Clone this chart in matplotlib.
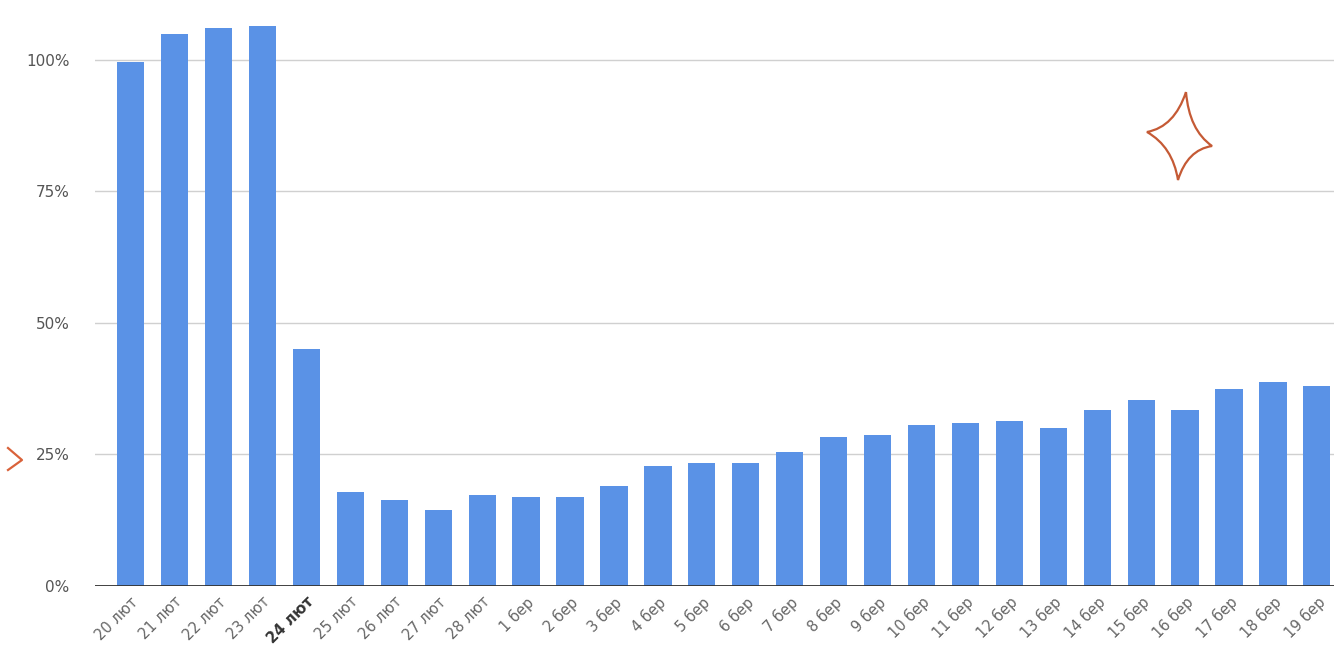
import matplotlib.pyplot as plt
from matplotlib.path import Path
import matplotlib.patches as patches

# categories and values (percent)
days = ["20 лют", "21 лют", "22 лют", "23 лют", "24 лют", "25 лют", "26 лют",
        "27 лют", "28 лют", "1 бер", "2 бер", "3 бер", "4 бер", "5 бер",
        "6 бер", "7 бер", "8 бер", "9 бер", "10 бер", "11 бер", "12 бер",
        "13 бер", "14 бер", "15 бер", "16 бер", "17 бер", "18 бер", "19 бер"]
values = [99.6, 105.0, 106.0, 106.5, 45.0, 17.9, 16.3, 14.4, 17.3, 16.9,
          16.9, 19.0, 22.8, 23.4, 23.4, 25.5, 28.3, 28.7, 30.6, 31.0,
          31.4, 30.0, 33.5, 35.4, 33.5, 37.5, 38.8, 38.0]
yticks = [0, 25, 50, 75, 100]
highlight = "24 лют"

fig = plt.figure(figsize=(13.34, 6.61), dpi=100)
ax = fig.add_axes([0.071, 0.1135, 0.929, 0.8865])

x = range(len(days))
ax.bar(x, values, width=0.62, color="#5A92E6", zorder=2)

ax.set_xlim(-0.82, len(days) - 0.61)
ax.set_ylim(0, 111.4)
ax.set_yticks(yticks)
ax.set_yticklabels([f"{v}%" for v in yticks])
ax.yaxis.grid(True, color="#d0d0d0", linewidth=1, zorder=0)
ax.axhline(0, color="#333333", linewidth=1.3, zorder=3)

ax.set_xticks(list(x))
ax.set_xticklabels(days, rotation=45, ha="right", rotation_mode="anchor")
for lbl in ax.get_xticklabels():
    if lbl.get_text() == highlight:
        lbl.set_fontweight("bold")
        lbl.set_color("#333333")
    else:
        lbl.set_color("#666666")

ax.tick_params(axis="both", length=0, labelsize=10.5)
ax.tick_params(axis="y", pad=18, labelcolor="#555555", labelsize=11)
ax.tick_params(axis="x", pad=6)
for s in ax.spines.values():
    s.set_visible(False)

# decorative four-point star (figure pixel coords -> fraction)
def fp(px, py):
    return (px / 1334, 1 - py / 661)

cx, cy = 1181, 139
pts = [(1186, 92), (1212, 146), (1178, 180), (1147, 132), (1186, 92)]
verts = [fp(*pts[0])]
codes = [Path.MOVETO]
for i in range(4):
    (x0, y0), (x1, y1) = pts[i], pts[i + 1]
    mx, my = (x0 + x1) / 2, (y0 + y1) / 2
    ctrl = (cx + 0.45 * (mx - cx), cy + 0.45 * (my - cy))
    verts += [fp(*ctrl), fp(x1, y1)]
    codes += [Path.CURVE3, Path.CURVE3]
star = patches.PathPatch(Path(verts, codes), transform=fig.transFigure,
                         fill=False, edgecolor="#C55A35", linewidth=1.6)
fig.patches.append(star)

# partial arrow head at the left edge
fig.lines.append(plt.Line2D([fp(8, 448)[0], fp(22, 460)[0], fp(8, 470)[0]],
                            [fp(8, 448)[1], fp(22, 460)[1], fp(8, 470)[1]],
                            transform=fig.transFigure, color="#D9623A",
                            linewidth=1.6))

fig.savefig("out.png", dpi=100)
